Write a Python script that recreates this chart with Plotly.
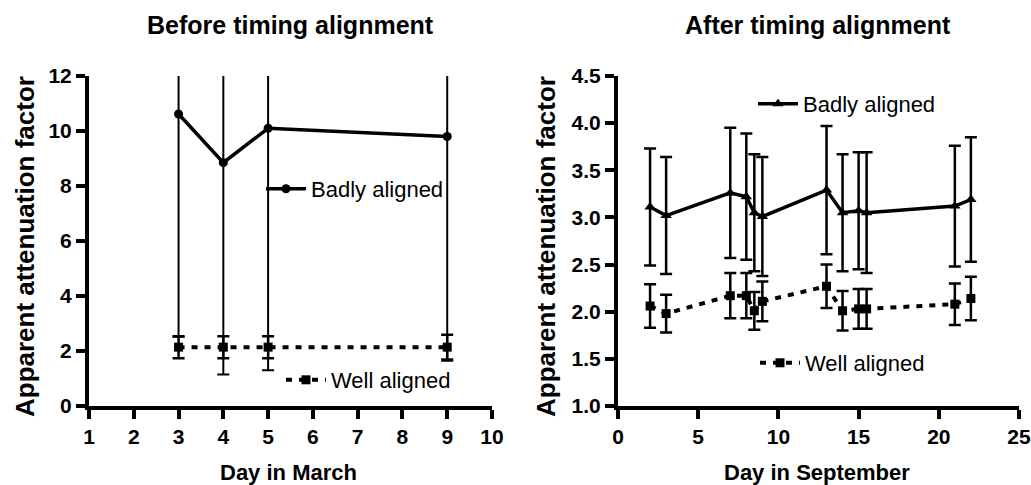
import plotly.graph_objects as go

# ---------------- data ----------------
march_days = [3, 4, 5, 9]
march_badly = [10.62, 8.85, 10.10, 9.80]
march_badly_err = [8.10, 7.70, 8.80, 8.15]
march_well = [2.14, 2.14, 2.14, 2.14]
march_well_err = [0.40, 0.40, 0.40, 0.45]

sept_days = [2, 3, 7, 8, 8.5, 9, 13, 14, 15, 15.5, 21, 22]
sept_badly = [3.11, 3.02, 3.26, 3.22, 3.05, 3.01, 3.29, 3.05, 3.07, 3.05, 3.12, 3.19]
sept_badly_err = [0.62, 0.62, 0.69, 0.67, 0.62, 0.63, 0.68, 0.62, 0.62, 0.64, 0.64, 0.66]
sept_well = [2.06, 1.98, 2.17, 2.17, 2.01, 2.11, 2.27, 2.01, 2.03, 2.03, 2.08, 2.14]
sept_well_err = [0.23, 0.20, 0.24, 0.24, 0.20, 0.21, 0.23, 0.21, 0.21, 0.21, 0.22, 0.23]

march_ticks = [1, 2, 3, 4, 5, 6, 7, 8, 9, 10]
march_yticks = [0, 2, 4, 6, 8, 10, 12]
sept_ticks = [0, 5, 10, 15, 20, 25]
sept_yticks = [1.0, 1.5, 2.0, 2.5, 3.0, 3.5, 4.0, 4.5]

titles = ["Before timing alignment", "After timing alignment"]
xtitles = ["Day in March", "Day in September"]
ytitle = "Apparent attenuation factor"

# ---------------- figure ----------------
W, H = 1031, 485
fig = go.Figure()

BLACK = "black"
SANS = "Liberation Sans, Arial, sans-serif"
dotdash = "6px,7px"

def eb(err, th=2, w=6):
    return dict(type="data", array=err, visible=True, color=BLACK, thickness=th, width=w)

fig.add_trace(go.Scatter(x=march_days, y=march_badly, error_y=eb(march_badly_err),
                         mode="lines+markers", name="Badly aligned",
                         line=dict(color=BLACK, width=3.5),
                         marker=dict(symbol="circle", size=9, color=BLACK),
                         xaxis="x", yaxis="y", legend="legend"))
fig.add_trace(go.Scatter(x=march_days, y=march_well, error_y=eb(march_well_err, th=2.5),
                         mode="lines+markers", name="Well aligned",
                         line=dict(color=BLACK, width=4, dash=dotdash),
                         marker=dict(symbol="square", size=9, color=BLACK),
                         xaxis="x", yaxis="y", legend="legend2"))
fig.add_trace(go.Scatter(x=sept_days, y=sept_badly, error_y=eb(sept_badly_err, th=2.5),
                         mode="lines+markers", name="Badly aligned",
                         line=dict(color=BLACK, width=3.5),
                         marker=dict(symbol="triangle-up", size=10, color=BLACK),
                         xaxis="x2", yaxis="y2", legend="legend3"))
fig.add_trace(go.Scatter(x=sept_days, y=sept_well, error_y=eb(sept_well_err, th=2.5),
                         mode="lines+markers", name="Well aligned",
                         line=dict(color=BLACK, width=4, dash=dotdash),
                         marker=dict(symbol="square", size=9, color=BLACK),
                         xaxis="x2", yaxis="y2", legend="legend4"))

def px_x(p):
    return p / W

def px_y(p):
    return (H - p) / H

tickfont = dict(family=SANS, size=21, color=BLACK, weight=700)
axcommon = dict(showline=True, linecolor=BLACK, linewidth=4, ticks="outside",
                ticklen=9, tickwidth=4, tickcolor=BLACK, showgrid=False,
                zeroline=False, tickfont=tickfont, fixedrange=True, automargin=False,
                ticklabeloverflow="allow")

def bold(vals, fmt="{}"):
    return ["<b>" + fmt.format(v) + "</b>" for v in vals]

ydom = [px_y(406), px_y(76)]
fig.update_layout(
    xaxis=dict(domain=[px_x(89), px_x(492)], range=[1, 10], tickvals=march_ticks,
               ticktext=bold(march_ticks), anchor="y", **axcommon),
    yaxis=dict(domain=ydom, range=[0, 12], tickvals=march_yticks,
               ticktext=bold(march_yticks), anchor="x", **axcommon),
    xaxis2=dict(domain=[px_x(618), px_x(1019)], range=[0, 25], tickvals=sept_ticks,
                ticktext=bold(sept_ticks), anchor="y2", **axcommon),
    yaxis2=dict(domain=ydom, range=[1, 4.5], tickvals=sept_yticks,
                ticktext=bold(sept_yticks, "{:.1f}"), anchor="x2", **axcommon),
)

legfont = dict(family=SANS, size=22, color=BLACK)
def leg(x, y):
    return dict(x=px_x(x), y=px_y(y), xanchor="left", yanchor="middle",
                bgcolor="rgba(0,0,0,0)", borderwidth=0, font=legfont,
                itemwidth=40, tracegroupgap=0)

fig.update_layout(
    legend=leg(261, 189),
    legend2=leg(281, 380),
    legend3=leg(753, 104),
    legend4=leg(755, 363),
    showlegend=True,
)

annos = []
for cx, t in zip([290, 818], titles):
    annos.append(dict(x=px_x(cx), y=px_y(25), xref="paper", yref="paper", text="<b>" + t + "</b>",
                      showarrow=False, xanchor="center", yanchor="middle",
                      font=dict(family=SANS, size=25, color=BLACK)))
for cx, t in zip([288, 817], xtitles):
    annos.append(dict(x=px_x(cx), y=px_y(472), xref="paper", yref="paper", text="<b>" + t + "</b>",
                      showarrow=False, xanchor="center", yanchor="middle",
                      font=dict(family=SANS, size=22, color=BLACK)))
for cx in [25, 546]:
    annos.append(dict(x=px_x(cx), y=px_y(247), xref="paper", yref="paper", text="<b>" + ytitle + "</b>",
                      textangle=-90, showarrow=False, xanchor="center", yanchor="middle",
                      font=dict(family=SANS, size=26, color=BLACK)))

fig.update_layout(
    annotations=annos,
    width=W, height=H,
    margin=dict(l=0, r=0, t=0, b=0, pad=0, autoexpand=False),
    paper_bgcolor="white", plot_bgcolor="white",
)

fig.write_html("out.html", config={"displayModeBar": False})
